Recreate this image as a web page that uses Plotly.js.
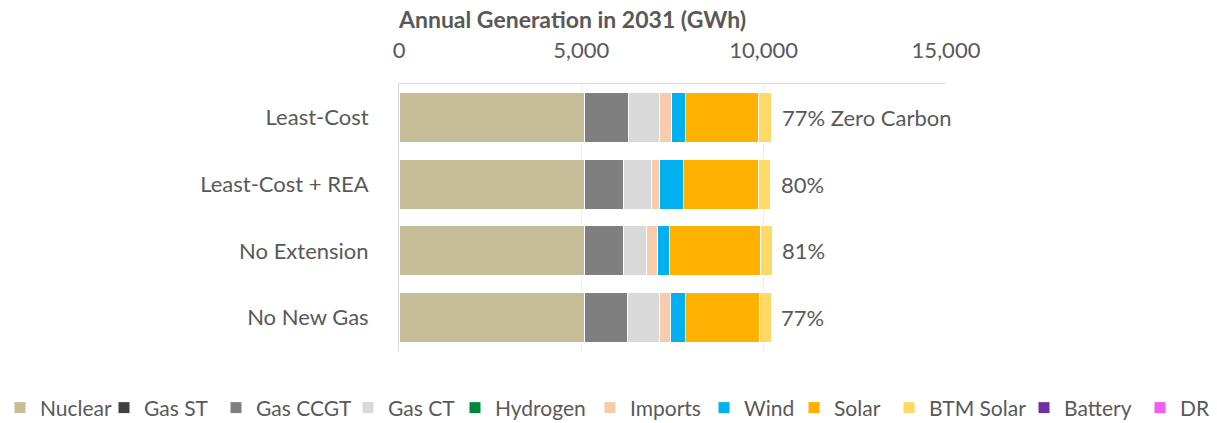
<!DOCTYPE html>
<html>
<head>
<meta charset="utf-8">
<script src="https://cdn.plot.ly/plotly-3.0.1.min.js"></script>
<style>html,body{margin:0;padding:0;background:#fff;}#chart{width:1217px;height:423px;}</style>
</head>
<body>
<div id="chart"></div>
<script>
const scenarios = ["Least-Cost", "Least-Cost + REA", "No Extension", "No New Gas"];
const zeroCarbonLabels = ["77% Zero Carbon", "80%", "81%", "77%"];

const nuclear  = [5100, 5100, 5100, 5100];
const gasST    = [0, 0, 0, 0];
const gasCCGT  = [1200, 1060, 1050, 1170];
const gasCT    = [850, 760, 650, 870];
const hydrogen = [0, 0, 0, 0];
const imports  = [320, 230, 280, 300];
const wind     = [380, 660, 330, 420];
const solar    = [2000, 2060, 2490, 2020];
const btmSolar = [370, 330, 330, 330];
const battery  = [0, 0, 0, 0];
const dr       = [0, 0, 0, 0];

const seriesNames  = ["Nuclear", "Gas ST", "Gas CCGT", "Gas CT", "Hydrogen", "Imports", "Wind", "Solar", "BTM Solar", "Battery", "DR"];
const seriesValues = [nuclear, gasST, gasCCGT, gasCT, hydrogen, imports, wind, solar, btmSolar, battery, dr];
const seriesColors = ["#C4BD97", "#404040", "#7F7F7F", "#D9D9D9", "#00873E", "#F8CBAD", "#00B0F0", "#FFB000", "#FFD966", "#7030A0", "#F25CF2"];
// left edge (px) where each legend label's text starts
const legendTextStart = [36, 144, 256, 388, 495, 630, 744, 834, 929, 1064, 1180];

const W = 1217, H = 423;
const textColor = "#595959";
const fontFam = "Lato, 'Open Sans', sans-serif";

const traces = seriesNames.map((name, i) => ({
  type: "bar",
  orientation: "h",
  name: name,
  y: scenarios,
  x: seriesValues[i],
  legend: i === 0 ? "legend" : "legend" + (i + 1),
  marker: {color: seriesColors[i], line: {color: "#FFFFFF", width: 1}},
  hoverinfo: "x+name"
}));

const totals = scenarios.map((_, j) => seriesValues.reduce((s, arr) => s + arr[j], 0));

const annotations = scenarios.map((s, j) => ({
  x: totals[j], y: s, xref: "x", yref: "y",
  text: zeroCarbonLabels[j], showarrow: false,
  xanchor: "left", xshift: 8,
  font: {family: fontFam, size: 22, color: textColor}
}));

const layout = {
  width: W, height: H,
  margin: {l: 399, r: 271, t: 84, b: 72},
  paper_bgcolor: "#FFFFFF", plot_bgcolor: "#FFFFFF",
  barmode: "stack",
  bargap: 0.25,
  showlegend: true,
  font: {family: fontFam, color: textColor, size: 22},
  title: {
    text: "<b>Annual Generation in 2031 (GWh)</b>",
    x: 0, xref: "paper", xanchor: "left",
    y: 1 - 20/H, yref: "container", yanchor: "middle",
    font: {family: fontFam, size: 23, color: textColor}
  },
  xaxis: {
    side: "top", range: [0, 15000],
    tickvals: [0, 5000, 10000, 15000],
    ticktext: ["0", "5,000", "10,000", "15,000"],
    showgrid: true, gridcolor: "#EDEDED",
    showline: true, linecolor: "#D9D9D9", linewidth: 1,
    zeroline: false, ticks: "",
    ticklabelstandoff: 16,
    tickfont: {family: fontFam, size: 22, color: textColor},
    fixedrange: true
  },
  yaxis: {
    autorange: "reversed",
    showline: true, linecolor: "#D9D9D9", linewidth: 1,
    showgrid: false, ticks: "",
    ticklabelstandoff: 25,
    tickfont: {family: fontFam, size: 22, color: textColor},
    fixedrange: true
  },
  annotations: annotations
};

seriesNames.forEach((name, i) => {
  const key = i === 0 ? "legend" : "legend" + (i + 1);
  layout[key] = {
    orientation: "h",
    xref: "container", yref: "container",
    x: Math.max(0, (legendTextStart[i] - 40) / W), xanchor: "left",
    y: 15 / H, yanchor: "middle",
    bgcolor: "rgba(0,0,0,0)",
    font: {family: fontFam, size: 21, color: textColor},
    itemwidth: 30
  };
});

Plotly.newPlot("chart", traces, layout, {displayModeBar: false, staticPlot: true});
</script>
</body>
</html>
